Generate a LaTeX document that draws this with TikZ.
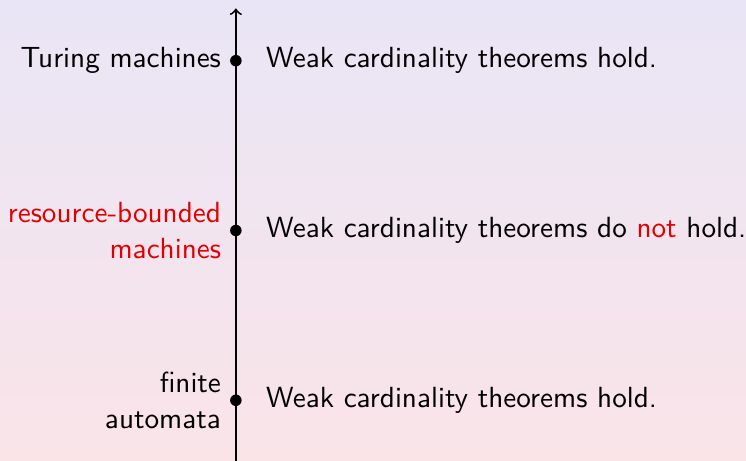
\documentclass[tikz,border=0pt]{standalone}
\usepackage{tikz}
\definecolor{bgtop}{RGB}{233,229,246}
\definecolor{bgbottom}{RGB}{250,228,232}
\definecolor{alertred}{RGB}{225,0,0}
\tikzset{
  dot/.style={circle, fill=black, inner sep=0pt, minimum size=0.15cm},
  level/.style={anchor=east, align=right},
  claim/.style={anchor=west}
}
\begin{document}
\begin{tikzpicture}[every node/.style={font=\sffamily\fontsize{10.8}{13.3}\selectfont}]
  % background
  \useasboundingbox (-3.07,-0.79) rectangle (6.64,5.21);
  \shade[top color=bgtop, bottom color=bgbottom] (-3.07,-0.79) rectangle (6.64,5.21);

  % axis
  \coordinate (bot) at (0,-0.79);
  \coordinate (top) at (0,5.10);
  \draw[line width=0.7pt, ->] (bot) -- (top);

  % levels
  \node[dot] (tm) at (0,4.42) {};
  \node[dot] (rb) at (0,2.21) {};
  \node[dot] (fa) at (0,0) {};

  \node[level] (tml) at (-0.07,4.42) {Turing machines};
  \node[level, alertred] (rbl) at (-0.07,2.21) {resource-bounded\\machines};
  \node[level] (fal) at (-0.07,0) {finite\\automata};

  \node[claim] (tmc) at (0.27,4.42) {Weak cardinality theorems hold.};
  \node[claim] (rbc) at (0.27,2.21) {Weak cardinality theorems do \textcolor{alertred}{not} hold.};
  \node[claim] (fac) at (0.27,0) {Weak cardinality theorems hold.};
\end{tikzpicture}
\end{document}
